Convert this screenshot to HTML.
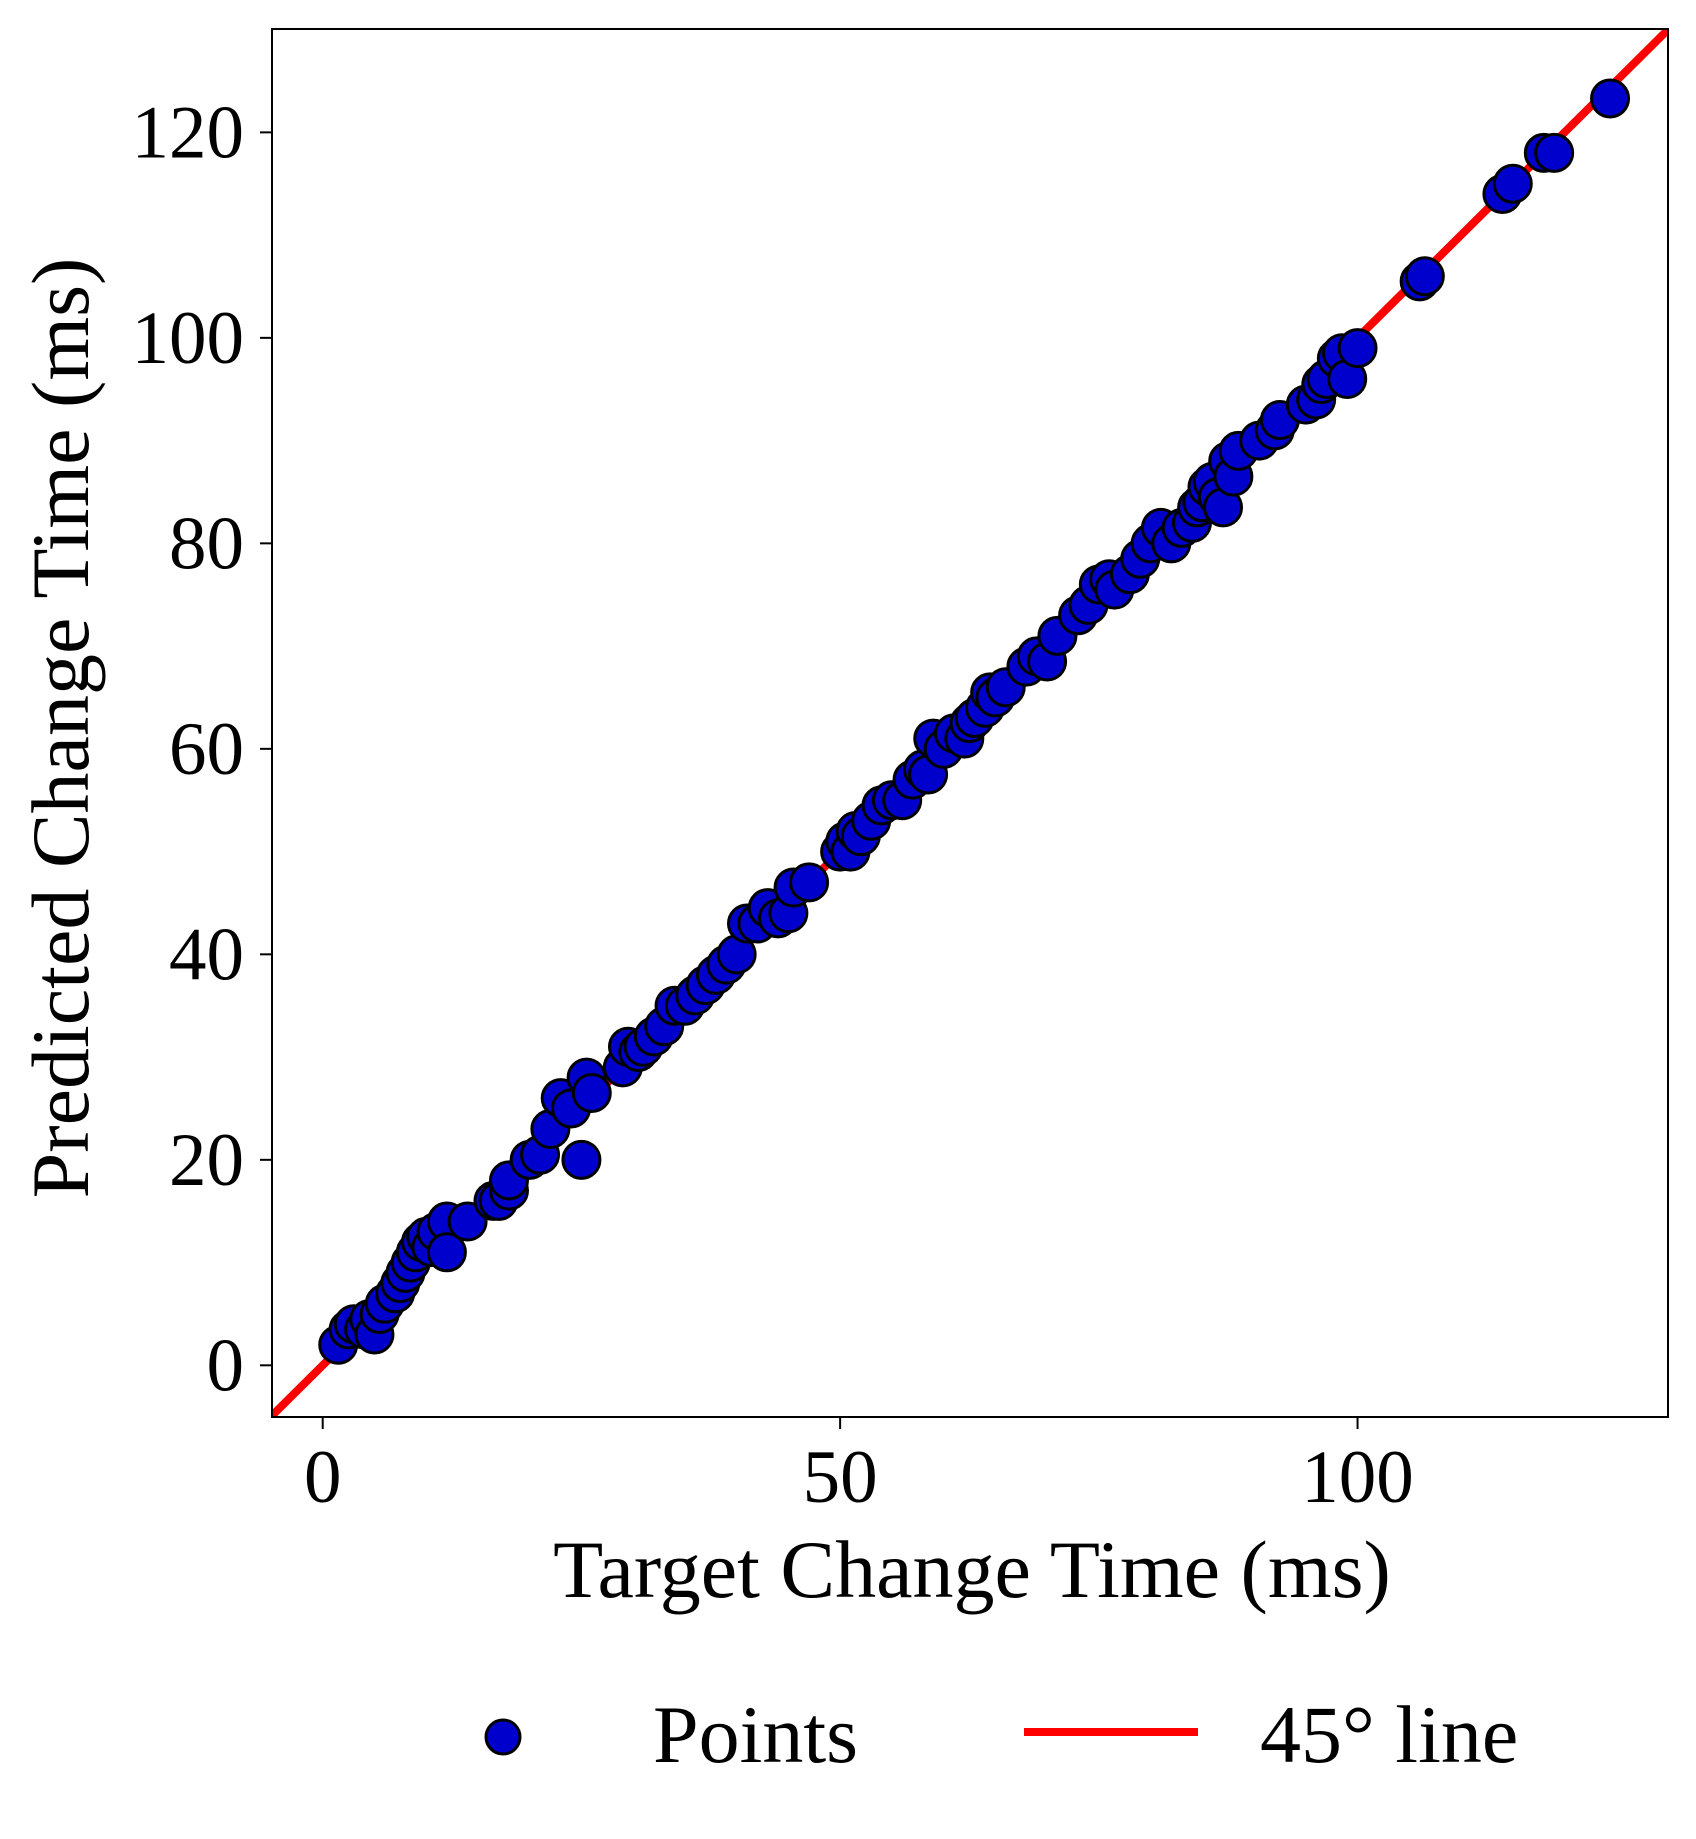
<!DOCTYPE html>
<html><head><meta charset="utf-8"><style>
html,body{margin:0;padding:0;background:#fff;}
svg{display:block;font-family:"Liberation Serif",serif;}
</style></head><body>
<svg id="chart" width="1696" height="1839" viewBox="0 0 1696 1839" xmlns="http://www.w3.org/2000/svg">
<defs><clipPath id="plotclip"><rect x="272" y="29" width="1396" height="1388"/></clipPath></defs>
<g id="lineLayer" clip-path="url(#plotclip)"></g>
<g id="pointLayer" clip-path="url(#plotclip)"></g>
<rect x="272" y="29" width="1396" height="1388" fill="none" stroke="#000" stroke-width="2"/>
<g id="xTicks"></g>
<g id="yTicks"></g>
<text x="972" y="1597" font-size="82" text-anchor="middle">Target Change Time (ms)</text>
<text transform="translate(88,728) rotate(-90)" font-size="82" text-anchor="middle">Predicted Change Time (ms)</text>
<g>
<g>
<circle cx="503" cy="1737" r="17" fill="#0000cc" stroke="#000" stroke-width="3"/>
<text x="653" y="1762" font-size="82">Points</text>
</g>
<g>
<line x1="1024" y1="1732" x2="1198" y2="1732" stroke="#ff0000" stroke-width="8"/>
<text x="1260" y="1762" font-size="82">45° line</text>
</g>
</g>
</svg>
<script>
const targetX = [1.5,2.5,3,4,4.5,5,5.5,6,7,7.5,8,8.5,9,9.5,10,10.5,11,12,12,14,16.5,17,18,18,20,21,22,23,24,25,25.5,26,29,29.5,30.5,31,32,33,34,35,36,37,38,39,40,41,42,43,44,45,45.5,47,50,50.5,51,51.5,52,53,54,55,56,57,58,58.5,59,60,61,62,62.5,63,64,64.5,65,66,68,69,70,71,73,74,75,76,76.5,78,79,80,81,82,83,84,84.5,85,85.5,86,86.5,87,87.5,88,88.5,90.5,92,92.5,95,96,96.5,97,98,98.5,99,100,106,106.5,114,115,118,119,124.4];
const predictedY = [2,3.5,4,3.5,4.5,3,5,6,7,8,9,10,11,12,12.5,11.5,13,14,11,14,16,16,17,18,20,20.5,23,26,25,20,28,26.5,29,31,30.5,31,32,33,35,35,36,37,38,39,40,43,43,44.5,43.5,44,46.5,47,50,51,50,52,51.5,53,54.5,55,55,57,58,57.5,61,60,61.5,61,62.5,63,64,65.5,65,66,68,69,68.5,71,73,74,76,76.5,75.5,77,78.5,80,81.5,80,81.5,82,83.5,84,85.5,86,84.5,83.5,88,86.5,89,90,91,92,93.5,94,95.5,96,98,98.5,96,99,105.5,106,114,115,118,118,123.3];
const xTickValues = [0,50,100];
const yTickValues = [0,20,40,60,80,100,120];
const diagonalEnds = [-10,140];

const NS='http://www.w3.org/2000/svg';
const PL=272,PR=1668,PT=29,PB=1417,XMIN=-4.9,XMAX=130,YMIN=-5.03,YMAX=130.06;
function xs(v){return PL+(v-XMIN)/(XMAX-XMIN)*(PR-PL);}
function ys(v){return PB-(v-YMIN)/(YMAX-YMIN)*(PB-PT);}
function mk(tag,attrs,parent){const e=document.createElementNS(NS,tag);for(const k in attrs)e.setAttribute(k,attrs[k]);parent.appendChild(e);return e;}

const ll=document.getElementById('lineLayer');
const dl=mk('line',{x1:xs(diagonalEnds[0]),y1:ys(diagonalEnds[0]),x2:xs(diagonalEnds[1]),y2:ys(diagonalEnds[1]),stroke:'#ff0000','stroke-width':8},ll);



const pl=document.getElementById('pointLayer');
for(let i=0;i<targetX.length;i++){
  const c=mk('circle',{cx:xs(targetX[i]),cy:ys(predictedY[i]),r:18.5,fill:'#0000cc',stroke:'#000','stroke-width':3},pl);
  
  
}
const xg=document.getElementById('xTicks');
xTickValues.forEach(v=>{
  const t=mk('line',{x1:xs(v),y1:PB,x2:xs(v),y2:PB+12,stroke:'#000','stroke-width':2},xg);
  
  
  const l=mk('text',{x:xs(v),y:1502,'font-size':75,'text-anchor':'middle'},xg);
  l.textContent=v;
  
  
});
const yg=document.getElementById('yTicks');
yTickValues.forEach(v=>{
  const t=mk('line',{x1:PL-12,y1:ys(v),x2:PL,y2:ys(v),stroke:'#000','stroke-width':2},yg);
  
  
  const l=mk('text',{x:244,y:ys(v)+25,'font-size':75,'text-anchor':'end'},yg);
  l.textContent=v;
  
  
});
</script>
</body></html>
